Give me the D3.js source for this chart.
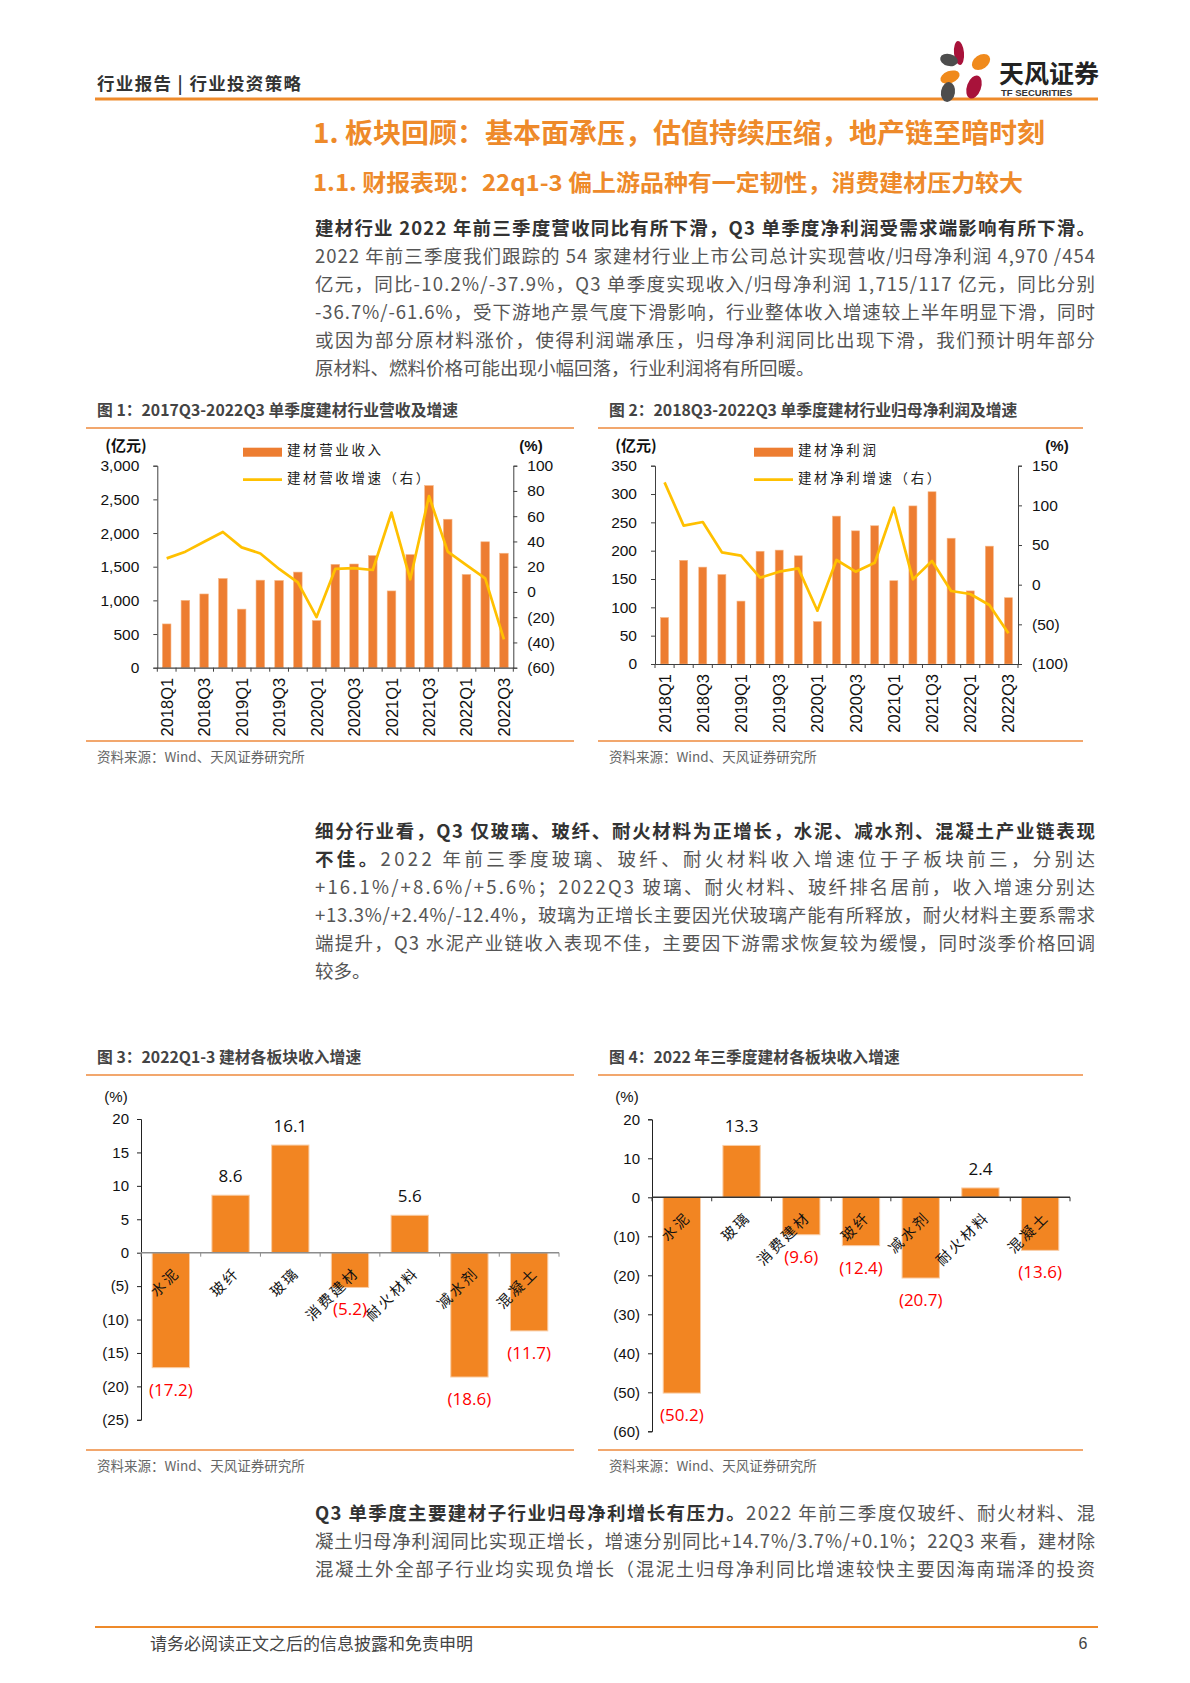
<!DOCTYPE html>
<html>
<head>
<meta charset="utf-8">
<script src="https://cdn.jsdelivr.net/npm/d3@7"></script>
<style>
  body { margin: 0; background: #fff; }
  svg { display: block; }
</style>
</head>
<body>
<script>
// ---- data ----
const quarters = ["2018Q1","2018Q2","2018Q3","2018Q4","2019Q1","2019Q2","2019Q3","2019Q4",
                  "2020Q1","2020Q2","2020Q3","2020Q4","2021Q1","2021Q2","2021Q3","2021Q4",
                  "2022Q1","2022Q2","2022Q3"];
// fig 1: revenue (亿元) and yoy growth (%)
const revenue = [650,1000,1095,1325,870,1300,1295,1420,700,1535,1540,1665,1140,1680,2705,2205,1385,1870,1700];
const revenueGrowth = [26.6,31.9,39.8,47.5,35.3,30.5,18.2,7.6,-19.9,18.2,18.9,17.4,62.9,10.0,76.0,31.9,21.3,10.8,-37.5];
const revTicks = [0,500,1000,1500,2000,2500,3000];
const revGrowthTicks = [-60,-40,-20,0,20,40,60,80,100];
// fig 2: net profit (亿元) and yoy growth (%)
const profit = [82,183,171,158,111,199,201,191,75,261,235,244,147,279,304,222,129,208,117];
const profitGrowth = [129,74.4,79,40.8,36.6,8.8,16.4,20.6,-32.8,31.1,16.4,27.7,97,6.7,29.8,-8,-11.8,-25.6,-61.3];
const profitTicks = [0,50,100,150,200,250,300,350];
const profitGrowthTicks = [-100,-50,0,50,100,150];
// fig 3: 2022Q1-3 revenue growth by sub-sector
const sectorsYtd = ["水泥","玻纤","玻璃","消费建材","耐火材料","减水剂","混凝土"];
const ytdGrowth = [-17.2,8.6,16.1,-5.2,5.6,-18.6,-11.7];
const ytdTicks = [-25,-20,-15,-10,-5,0,5,10,15,20];
// fig 4: 2022Q3 revenue growth by sub-sector
const sectorsQ3 = ["水泥","玻璃","消费建材","玻纤","减水剂","耐火材料","混凝土"];
const q3Growth = [-50.2,13.3,-9.6,-12.4,-20.7,2.4,-13.6];
const q3Ticks = [-60,-50,-40,-30,-20,-10,0,10,20];

const CJK = "'Noto Sans CJK SC', 'Noto Sans', sans-serif";
const NUM = "'Liberation Sans', Arial, sans-serif";
const ORANGE = "#EE8A2A";

const svg = d3.select("body").append("svg")
  .attr("width", 1190).attr("height", 1683)
  .style("font-family", CJK);
svg.append("rect").attr("width", 1190).attr("height", 1683).attr("fill", "#fff");

function fmt(v) {
  return v < 0 ? "(" + d3.format(",")(-v) + ")" : d3.format(",")(v);
}

// ---- page furniture ----
svg.append("text").attr("x", 97).attr("y", 90)
  .attr("font-size", 17.5).attr("font-weight", 700).attr("fill", "#333")
  .attr("textLength", 204).attr("lengthAdjust", "spacing")
  .text("行业报告 | 行业投资策略");
svg.append("line").attr("x1", 95).attr("x2", 1098).attr("y1", 99).attr("y2", 99)
  .attr("stroke", ORANGE).attr("stroke-width", 3);

// logo
const logo = svg.append("g");
const petals = [
  [959, 53, 5, 12, -5, "#A8123A"],
  [981, 62, 10, 7, -35, "#F08A1C"],
  [949, 60, 9, 6, 15, "#4D4D4D"],
  [950, 77, 10, 6, -20, "#F08A1C"],
  [948, 92, 7, 10, 10, "#4D4D4D"],
  [974, 87, 7, 12, 20, "#A8123A"]
];
petals.forEach(p => {
  logo.append("ellipse").attr("cx", p[0]).attr("cy", p[1]).attr("rx", p[2]).attr("ry", p[3])
    .attr("transform", `rotate(${p[4]},${p[0]},${p[1]})`).attr("fill", p[5]);
});
logo.append("text").attr("x", 999).attr("y", 83).attr("font-size", 25).attr("font-weight", 700)
  .attr("fill", "#222").text("天风证券");
logo.append("text").attr("x", 1001).attr("y", 96).attr("font-size", 9.5).attr("font-weight", 700)
  .attr("font-family", NUM).attr("fill", "#333").text("TF SECURITIES");

svg.append("text").attr("x", 313).attr("y", 143)
  .attr("font-size", 27).attr("font-weight", 700).attr("fill", ORANGE)
  .attr("textLength", 732).attr("lengthAdjust", "spacingAndGlyphs")
  .text("1. 板块回顾：基本面承压，估值持续压缩，地产链至暗时刻");
svg.append("text").attr("x", 313).attr("y", 191)
  .attr("font-size", 22.5).attr("font-weight", 700).attr("fill", ORANGE)
  .attr("textLength", 710).attr("lengthAdjust", "spacingAndGlyphs")
  .text("1.1. 财报表现：22q1-3 偏上游品种有一定韧性，消费建材压力较大");

// paragraphs: each line = [segments, justify]
function para(lines, x, y0, lh, width) {
  lines.forEach((ln, i) => {
    const t = svg.append("text").attr("x", x).attr("y", y0 + i * lh)
      .attr("font-size", 18.5).attr("dominant-baseline", "middle");
    if (ln[1]) t.attr("textLength", width).attr("lengthAdjust", "spacing");
    ln[0].forEach(seg => {
      t.append("tspan").attr("font-weight", seg[1] ? 700 : 400)
        .attr("fill", seg[1] ? "#333" : "#555").text(seg[0]);
    });
  });
}
para([
  [[["建材行业 2022 年前三季度营收同比有所下滑，Q3 单季度净利润受需求端影响有所下滑。", true]], true],
  [[["2022 年前三季度我们跟踪的 54 家建材行业上市公司总计实现营收/归母净利润 4,970 /454", false]], true],
  [[["亿元，同比-10.2%/-37.9%，Q3 单季度实现收入/归母净利润 1,715/117 亿元，同比分别", false]], true],
  [[["-36.7%/-61.6%，受下游地产景气度下滑影响，行业整体收入增速较上半年明显下滑，同时", false]], true],
  [[["或因为部分原材料涨价，使得利润端承压，归母净利润同比出现下滑，我们预计明年部分", false]], true],
  [[["原材料、燃料价格可能出现小幅回落，行业利润将有所回暖。", false]], false]
], 315, 230, 28, 780);

para([
  [[["细分行业看，Q3 仅玻璃、玻纤、耐火材料为正增长，水泥、减水剂、混凝土产业链表现", true]], true],
  [[["不佳。", true], ["2022 年前三季度玻璃、玻纤、耐火材料收入增速位于子板块前三，分别达", false]], true],
  [[["+16.1%/+8.6%/+5.6%；2022Q3 玻璃、耐火材料、玻纤排名居前，收入增速分别达", false]], true],
  [[["+13.3%/+2.4%/-12.4%，玻璃为正增长主要因光伏玻璃产能有所释放，耐火材料主要系需求", false]], true],
  [[["端提升，Q3 水泥产业链收入表现不佳，主要因下游需求恢复较为缓慢，同时淡季价格回调", false]], true],
  [[["较多。", false]], false]
], 315, 833, 28, 780);

para([
  [[["Q3 单季度主要建材子行业归母净利增长有压力。", true], ["2022 年前三季度仅玻纤、耐火材料、混", false]], true],
  [[["凝土归母净利润同比实现正增长，增速分别同比+14.7%/3.7%/+0.1%；22Q3 来看，建材除", false]], true],
  [[["混凝土外全部子行业均实现负增长（混泥土归母净利同比增速较快主要因海南瑞泽的投资", false]], true]
], 315, 1515, 28, 780);

// captions, rules and sources
function frame(x1, x2, capY, capText, srcLineY) {
  svg.append("text").attr("x", x1 + 11).attr("y", capY).attr("dominant-baseline", "middle")
    .attr("font-size", 15.8).attr("font-weight", 700).attr("fill", "#444").text(capText);
  [capY + 16, srcLineY].forEach(y => {
    svg.append("line").attr("x1", x1).attr("x2", x2).attr("y1", y).attr("y2", y)
      .attr("stroke", "#EE8A3C").attr("stroke-width", 1.3);
  });
  svg.append("text").attr("x", x1 + 11).attr("y", srcLineY + 17).attr("dominant-baseline", "middle")
    .attr("font-size", 13.5).attr("fill", "#666").text("资料来源：Wind、天风证券研究所");
}
frame(86, 574, 412, "图 1：2017Q3-2022Q3 单季度建材行业营收及增速", 741);
frame(598, 1083, 412, "图 2：2018Q3-2022Q3 单季度建材行业归母净利润及增速", 741);
frame(86, 574, 1059, "图 3：2022Q1-3 建材各板块收入增速", 1450);
frame(598, 1083, 1059, "图 4：2022 年三季度建材各板块收入增速", 1450);

// footer
svg.append("line").attr("x1", 95).attr("x2", 1098).attr("y1", 1627).attr("y2", 1627)
  .attr("stroke", ORANGE).attr("stroke-width", 2);
svg.append("text").attr("x", 150).attr("y", 1645).attr("dominant-baseline", "middle")
  .attr("font-size", 17).attr("fill", "#444").text("请务必阅读正文之后的信息披露和免责申明");
svg.append("text").attr("x", 1083).attr("y", 1645).attr("dominant-baseline", "middle")
  .attr("text-anchor", "middle").attr("font-size", 16).attr("font-family", NUM)
  .attr("fill", "#444").text("6");

// ---- combo chart (bars + line on right axis) ----
function combo(c) {
  const g = svg.append("g");
  const x = d3.scaleBand().domain(quarters).range([c.x0, c.x1])
    .paddingInner(c.pad).paddingOuter(c.pad / 2);
  const yL = d3.scaleLinear().domain([0, d3.max(c.lTicks)]).range([c.yB, c.yT]);
  const yR = d3.scaleLinear().domain(d3.extent(c.rTicks)).range([c.yB, c.yT]);

  g.selectAll(".bar").data(c.bars).enter().append("rect")
    .attr("x", (d, i) => x(quarters[i])).attr("width", x.bandwidth())
    .attr("y", d => yL(d)).attr("height", d => yL(0) - yL(d))
    .attr("fill", "#ED7D31").attr("stroke", "#F6B888").attr("stroke-width", 0.6);

  const line = d3.line().x((d, i) => x(quarters[i]) + x.bandwidth() / 2).y(d => yR(d));
  g.append("path").datum(c.line).attr("d", line).attr("fill", "none")
    .attr("stroke", "#FFC000").attr("stroke-width", 2.7).attr("stroke-linejoin", "round");

  const axL = g.append("g").attr("transform", `translate(${c.x0},0)`)
    .call(d3.axisLeft(yL).tickValues(c.lTicks).tickFormat(fmt).tickSizeOuter(0).tickSize(4).tickPadding(14));
  const axR = g.append("g").attr("transform", `translate(${c.x1},0)`)
    .call(d3.axisRight(yR).tickValues(c.rTicks).tickFormat(fmt).tickSizeOuter(0).tickSize(4).tickPadding(10));
  [axL, axR].forEach(a => {
    a.selectAll("path,line").attr("stroke", "#404040");
    a.selectAll("text").attr("font-family", NUM).attr("font-size", 15.5).attr("fill", "#111");
  });

  const axB = g.append("g").attr("transform", `translate(0,${c.yB})`)
    .call(d3.axisBottom(x).tickSize(0).tickSizeOuter(0).tickFormat(""));
  axB.select("path").attr("stroke", "#404040").attr("stroke-width", 1.2);
  d3.range(quarters.length + 1).forEach(i => {
    const xx = c.x0 + i * x.step();
    g.append("line").attr("x1", xx).attr("x2", xx).attr("y1", c.yB).attr("y2", c.yB + 4)
      .attr("stroke", "#404040");
  });
  g.selectAll(".xl").data(quarters.filter((q, i) => i % 2 === 0)).enter().append("text")
    .attr("transform", d => `translate(${x(d) + x.bandwidth() / 2 + 6},${c.yB + 10}) rotate(-90)`)
    .attr("text-anchor", "end").attr("font-family", NUM).attr("font-size", 16.5).attr("fill", "#111")
    .text(d => d);

  g.append("text").attr("x", c.unitL).attr("y", c.yT - 19).attr("text-anchor", "middle")
    .attr("dominant-baseline", "middle").attr("font-size", 15).attr("font-weight", 700)
    .attr("fill", "#111").text("(亿元)");
  g.append("text").attr("x", c.unitR).attr("y", c.yT - 19).attr("text-anchor", "middle")
    .attr("dominant-baseline", "middle").attr("font-size", 15).attr("font-weight", 700)
    .attr("font-family", NUM).attr("fill", "#111").text("(%)");

  // legend
  g.append("rect").attr("x", c.legX).attr("y", c.yT - 18).attr("width", 39).attr("height", 9)
    .attr("fill", "#ED7D31");
  g.append("line").attr("x1", c.legX).attr("x2", c.legX + 39).attr("y1", c.yT + 14).attr("y2", c.yT + 14)
    .attr("stroke", "#FFC000").attr("stroke-width", 2.7);
  [[c.legBar, c.yT - 14], [c.legLine, c.yT + 14]].forEach(l => {
    g.append("text").attr("x", c.legX + 44).attr("y", l[1]).attr("dominant-baseline", "middle")
      .attr("font-size", 13.5).attr("letter-spacing", 2.6).attr("fill", "#222").text(l[0]);
  });
}

combo({ x0: 157.3, x1: 513.3, yT: 465.7, yB: 667.7, pad: 0.54,
  bars: revenue, line: revenueGrowth, lTicks: revTicks, rTicks: revGrowthTicks,
  unitL: 126, unitR: 531, legX: 243, legBar: "建材营业收入", legLine: "建材营收增速（右）" });
combo({ x0: 655, x1: 1018, yT: 465.7, yB: 664, pad: 0.58,
  bars: profit, line: profitGrowth, lTicks: profitTicks, rTicks: profitGrowthTicks,
  unitL: 636, unitR: 1057, legX: 754, legBar: "建材净利润", legLine: "建材净利增速（右）" });

// ---- sector bar chart ----
function sectorBars(c) {
  const g = svg.append("g");
  const x = d3.scaleBand().domain(c.cats).range([c.x0, c.x1]).paddingInner(0.375).paddingOuter(0.1875);
  const y = d3.scaleLinear().domain(d3.extent(c.ticks)).range([c.yB, c.yT]);

  g.selectAll(".bar").data(c.vals).enter().append("rect")
    .attr("x", (d, i) => x(c.cats[i])).attr("width", x.bandwidth())
    .attr("y", d => y(Math.max(0, d))).attr("height", d => Math.abs(y(d) - y(0)))
    .attr("fill", "#F28522").attr("stroke", "#F9CDA6").attr("stroke-width", 1);

  const ax = g.append("g").attr("transform", `translate(${c.x0},0)`)
    .call(d3.axisLeft(y).tickValues(c.ticks).tickFormat(fmt).tickSizeOuter(0).tickSize(4).tickPadding(8));
  ax.selectAll("path,line").attr("stroke", "#222");
  ax.selectAll("text").attr("font-family", NUM).attr("font-size", 15).attr("fill", "#111");

  g.append("line").attr("x1", c.x0).attr("x2", c.x1).attr("y1", y(0)).attr("y2", y(0))
    .attr("stroke", c.zeroColor).attr("stroke-width", 1.5);
  d3.range(c.cats.length + 1).forEach(i => {
    const xx = c.x0 + i * x.step();
    g.append("line").attr("x1", xx).attr("x2", xx).attr("y1", y(0)).attr("y2", y(0) + 4)
      .attr("stroke", c.zeroColor);
  });

  g.selectAll(".cl").data(c.cats).enter().append("text")
    .attr("transform", d => `translate(${x(d) + x.bandwidth() / 2 + 10},${y(0) + 21}) rotate(-45)`)
    .attr("text-anchor", "end").attr("font-size", 14.5).attr("letter-spacing", 2.5).attr("fill", "#111")
    .text(d => d);

  g.selectAll(".vl").data(c.vals).enter().append("text")
    .attr("x", (d, i) => x(c.cats[i]) + x.bandwidth() / 2)
    .attr("y", d => d >= 0 ? y(d) - 13 : y(d) + 28)
    .attr("text-anchor", "middle").attr("font-family", "'Open Sans', " + NUM).attr("font-size", 17)
    .attr("fill", d => d >= 0 ? "#111" : "#FF0000")
    .text(d => d >= 0 ? d3.format(".1f")(d) : "(" + d3.format(".1f")(-d) + ")");

  g.append("text").attr("x", c.unitX).attr("y", c.yT - 21).attr("text-anchor", "middle")
    .attr("dominant-baseline", "middle").attr("font-family", NUM).attr("font-size", 15)
    .attr("fill", "#111").text("(%)");
}

sectorBars({ x0: 141, x1: 559, yT: 1119, yB: 1419.8, cats: sectorsYtd, vals: ytdGrowth,
  ticks: ytdTicks, unitX: 116, zeroColor: "#8C8C8C" });
sectorBars({ x0: 652, x1: 1070, yT: 1119.3, yB: 1431.3, cats: sectorsQ3, vals: q3Growth,
  ticks: q3Ticks, unitX: 627, zeroColor: "#333" });
</script>
</body>
</html>
